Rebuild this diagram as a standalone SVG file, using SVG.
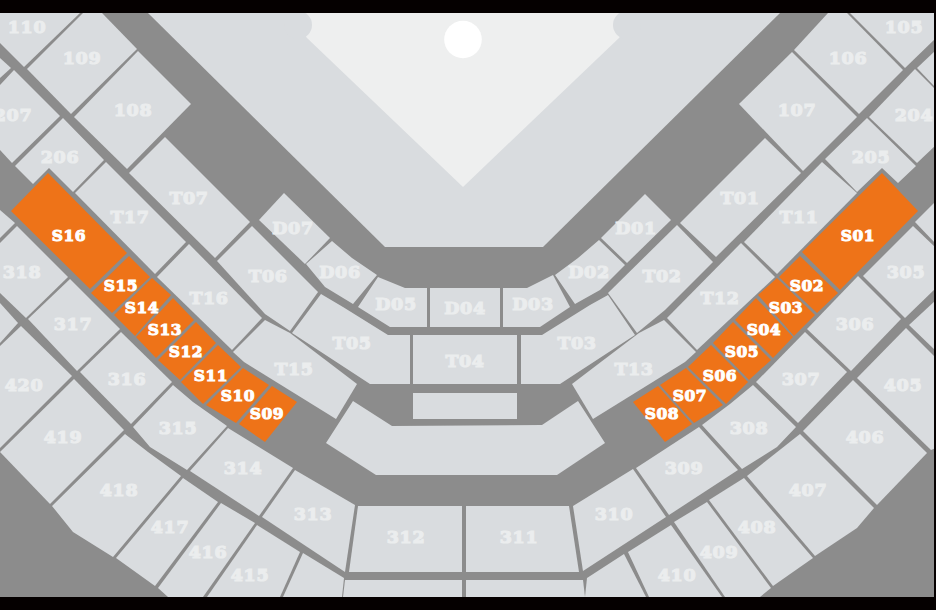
<svg xmlns="http://www.w3.org/2000/svg" width="936" height="610" viewBox="0 0 936 610">
<style>
polygon{fill:#d9dcdf}
.o polygon{fill:#ee7318}
text{font-family:"DejaVu Serif","Liberation Serif",serif;font-weight:bold;text-anchor:middle;dominant-baseline:central;font-size:17.5px;letter-spacing:.6px;fill:#ebedee;stroke:#ebedee;stroke-width:1.2px}
.o text{font-size:15.5px;letter-spacing:.5px;fill:#fff;stroke:#fff;stroke-width:1px}
</style>
<rect width="936" height="610" fill="#8c8c8c"/>
<g id="field">
<polygon points="148,13 780,13 543,247 385,247"/>
<polygon points="298,13 628,13 628,25 619,38 463,187 307,38 298,25" style="fill:#eeefef"/>
<circle cx="298" cy="25" r="14" fill="#d9dcdf"/>
<circle cx="627" cy="25" r="14" fill="#d9dcdf"/>
<circle cx="463" cy="39.5" r="18.8" fill="#fff"/>
</g>
<g id="stage">
<polygon points="413,393 517,393 517,419 413,419"/>
<polygon points="353,401 392,426 542,425 578,401 605,443 557,475 376,475 326,443"/>
</g>
<g id="unlabelled">
<polygon points="0,58 11,68 0,78"/>
<polygon points="0,210 15,223 0,238"/>
<polygon points="0,303 18,323 0,343"/>
<polygon points="917,68 936,50 936,88"/>
<polygon points="915,222 936,201 936,244"/>
<polygon points="909,325 936,300 936,351"/>
<polygon points="283,597 303,553 344,578 342,597"/>
<polygon points="345,580 462,580 462,597 343,597"/>
<polygon points="466,580 583,580 585,597 466,597"/>
<polygon points="587,578 624,554 646,597 585,597"/>
</g>
<g id="s110"><polygon points="0,13 80,13 24,67 0,43"/><text x="27" y="27">110</text></g>
<g id="s109"><polygon points="83,13 102,13 137,49 71,114 27,69"/><text x="82" y="58">109</text></g>
<g id="s108"><polygon points="138,51 191,104 127,169 74,117"/><text x="133" y="110">108</text></g>
<g id="s207"><polygon points="0,85 14,70 60,116 12,163 0,150"/><text x="13" y="115">207</text></g>
<g id="s206"><polygon points="63,118 104,160 73,192 49,168 33,184 15,166"/><text x="60" y="157">206</text></g>
<g id="sT07"><polygon points="165,137 250,222 215,258 129,173"/><text x="189" y="198">T07</text></g>
<g id="sT17"><polygon points="75,193 106,162 186,242 155,274"/><text x="130" y="217">T17</text></g>
<g id="s318"><polygon points="0,243 17,226 68,277 26,318 0,293"/><text x="22" y="272">318</text></g>
<g id="s317"><polygon points="70,279 120,329 77,371 28,319"/><text x="73" y="324">317</text></g>
<g id="s420"><polygon points="0,346 21,326 72,376 0,448"/><text x="24" y="385">420</text></g>
<g id="s316"><polygon points="80,372 121,332 172,382 131,424"/><text x="127" y="379">316</text></g>
<g id="s315"><polygon points="133,427 173,385 193,402 227,426 187,470 150,447"/><text x="178" y="428">315</text></g>
<g id="s314"><polygon points="190,471 228,428 293,468 259,516"/><text x="243" y="468">314</text></g>
<g id="s313"><polygon points="262,517 295,470 355,505 345,572"/><text x="313" y="514">313</text></g>
<g id="s419"><polygon points="0,452 74,379 124,430 50,504"/><text x="63" y="437">419</text></g>
<g id="s418"><polygon points="52,506 125,434 148,452 181,476 113,557 73,532"/><text x="119" y="490">418</text></g>
<g id="s417"><polygon points="116,558 183,478 218,502 155,586"/><text x="170" y="527">417</text></g>
<g id="s416"><polygon points="158,588 221,503 255,523 203,597 168,597"/><text x="208" y="552">416</text></g>
<g id="s415"><polygon points="207,597 257,525 300,552 280,597"/><text x="250" y="575">415</text></g>
<g id="s312"><polygon points="358,506 462,506 462,572 349,572"/><text x="406" y="537">312</text></g>
<g id="s311"><polygon points="466,506 569,506 579,572 466,572"/><text x="519" y="537">311</text></g>
<g id="s310"><polygon points="573,506 633,469 666,517 583,571"/><text x="614" y="514">310</text></g>
<g id="s309"><polygon points="636,468 699,427 738,470 669,515"/><text x="684" y="468">309</text></g>
<g id="s308"><polygon points="702,425 730,404 753,385 796,427 777,447 742,469"/><text x="749" y="428">308</text></g>
<g id="s307"><polygon points="756,382 805,332 847,372 798,423"/><text x="801" y="379">307</text></g>
<g id="s306"><polygon points="807,329 858,276 901,319 851,371"/><text x="855" y="324">306</text></g>
<g id="s305"><polygon points="863,276 913,226 936,248 936,288 905,318"/><text x="906" y="272">305</text></g>
<g id="s405"><polygon points="857,378 906,328 936,358 936,448 931,450"/><text x="903" y="385">405</text></g>
<g id="s406"><polygon points="803,431 853,380 927,453 877,505"/><text x="865" y="437">406</text></g>
<g id="s407"><polygon points="747,476 800,434 874,508 857,528 815,556"/><text x="808" y="490">407</text></g>
<g id="s408"><polygon points="709,500 744,478 813,558 773,586"/><text x="757" y="527">408</text></g>
<g id="s409"><polygon points="674,522 707,502 771,588 760,597 725,597"/><text x="719" y="552">409</text></g>
<g id="s410"><polygon points="628,552 671,525 722,597 649,597"/><text x="677" y="575">410</text></g>
<g id="s105"><polygon points="850,13 936,13 936,38 905,68"/><text x="904" y="27">105</text></g>
<g id="s106"><polygon points="828,13 847,13 903,70 859,114 794,50"/><text x="848" y="58">106</text></g>
<g id="s107"><polygon points="792,52 857,117 803,171 739,104"/><text x="797" y="110">107</text></g>
<g id="s204"><polygon points="869,117 915,69 936,90 936,145 917,163"/><text x="914" y="115">204</text></g>
<g id="s205"><polygon points="825,159 867,118 916,166 898,183 882,168 857,192"/><text x="871" y="157">205</text></g>
<g id="sT11"><polygon points="744,242 822,162 857,193 777,274"/><text x="799" y="217">T11</text></g>
<g id="sT01"><polygon points="680,223 765,138 801,173 716,257"/><text x="740" y="198">T01</text></g>
<g id="sT16"><polygon points="157,277 189,244 262,318 232,350"/><text x="209" y="298">T16</text></g>
<g id="sT15"><polygon points="233,352 265,320 290,333 357,384 336,419 244,362"/><text x="294" y="369">T15</text></g>
<g id="sT06"><polygon points="217,261 252,226 318,292 290,331 265,314"/><text x="268" y="276">T06</text></g>
<g id="sD07"><polygon points="259,220 284,193 330,238 305,264"/><text x="293" y="228">D07</text></g>
<g id="sD06"><polygon points="332,241 352,258 377,275 353,304 325,287 306,264"/><text x="340" y="272">D06</text></g>
<g id="sD05"><polygon points="378,277 405,288 427,288 427,327 390,327 358,307"/><text x="396" y="304">D05</text></g>
<g id="sD04"><polygon points="430,288 500,288 500,327 430,327"/><text x="465" y="308">D04</text></g>
<g id="sD03"><polygon points="503,288 527,288 553,275 570,307 540,327 503,327"/><text x="533" y="304">D03</text></g>
<g id="sD02"><polygon points="555,275 578,258 599,240 625,265 600,290 575,304"/><text x="589" y="272">D02</text></g>
<g id="sD01"><polygon points="601,238 645,194 671,220 627,263"/><text x="636" y="228">D01</text></g>
<g id="sT02"><polygon points="677,225 713,262 665,310 637,333 608,293"/><text x="662" y="276">T02</text></g>
<g id="sT03"><polygon points="521,335 542,335 590,305 608,295 635,335 560,384 521,384"/><text x="577" y="343">T03</text></g>
<g id="sT04"><polygon points="413,335 517,335 517,384 413,384"/><text x="465" y="361">T04</text></g>
<g id="sT05"><polygon points="410,335 388,335 343,307 321,294 292,333 370,384 410,384"/><text x="352" y="343">T05</text></g>
<g id="sT13"><polygon points="696,352 664,320 639,333 572,384 593,419 685,362"/><text x="634" y="369">T13</text></g>
<g id="sT12"><polygon points="741,243 775,277 697,350 667,318"/><text x="720" y="298">T12</text></g>
<g id="sS16" class="o"><polygon points="48,173 127,253 90,289 11,211"/><text x="69" y="235">S16</text></g>
<g id="sS15" class="o"><polygon points="129,256 150,277 112,313 91,293"/><text x="121" y="285">S15</text></g>
<g id="sS14" class="o"><polygon points="152,278 171,295 135,336 114,315"/><text x="142" y="307">S14</text></g>
<g id="sS13" class="o"><polygon points="173,298 194,320 156,358 136,337"/><text x="165" y="329">S13</text></g>
<g id="sS12" class="o"><polygon points="196,322 216,343 180,380 158,360"/><text x="186" y="351">S12</text></g>
<g id="sS11" class="o"><polygon points="218,345 241,367 203,404 181,382"/><text x="211" y="375">S11</text></g>
<g id="sS10" class="o"><polygon points="243,368 269,385 236,423 206,405"/><text x="238" y="395">S10</text></g>
<g id="sS09" class="o"><polygon points="272,386 297,402 265,442 239,424"/><text x="267" y="413">S09</text></g>
<g id="sS01" class="o"><polygon points="882,173 918,211 840,290 802,252"/><text x="858" y="235">S01</text></g>
<g id="sS02" class="o"><polygon points="800,256 838,293 817,313 779,277"/><text x="807" y="285">S02</text></g>
<g id="sS03" class="o"><polygon points="777,278 815,315 794,336 758,295"/><text x="786" y="307">S03</text></g>
<g id="sS04" class="o"><polygon points="756,298 793,337 773,358 735,320"/><text x="764" y="329">S04</text></g>
<g id="sS05" class="o"><polygon points="733,322 771,360 749,380 713,343"/><text x="742" y="351">S05</text></g>
<g id="sS06" class="o"><polygon points="711,345 748,382 726,404 688,367"/><text x="720" y="375">S06</text></g>
<g id="sS07" class="o"><polygon points="686,368 723,405 694,423 660,385"/><text x="690" y="395">S07</text></g>
<g id="sS08" class="o"><polygon points="658,386 692,424 665,442 633,402"/><text x="662" y="413">S08</text></g>
<g id="frame" fill="#050000">
<rect width="936" height="13"/>
<rect y="597" width="936" height="13"/>
<rect x="934" width="2" height="610"/>
</g>
</svg>
